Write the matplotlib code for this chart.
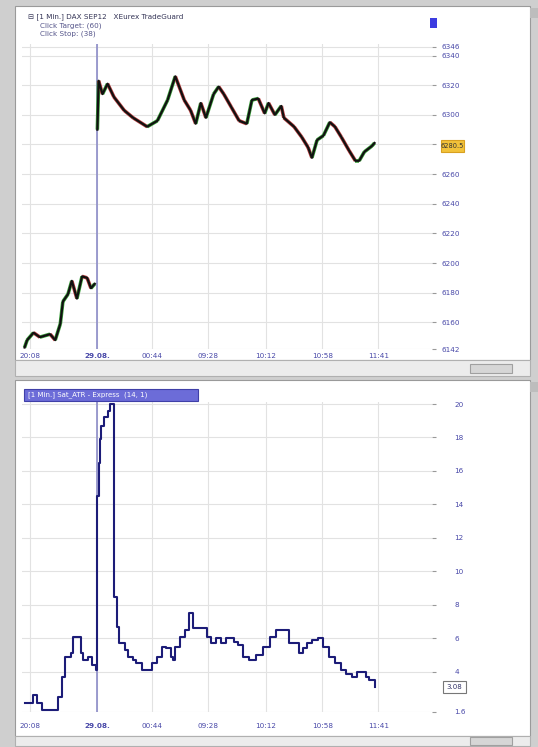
import numpy as np
import matplotlib.pyplot as plt
from matplotlib.patches import Rectangle
from matplotlib.collections import LineCollection

# values (x = 1-minute bar index)
price_bar = [2, 4, 9, 14, 22, 26, 30, 32, 36, 39, 43, 47, 51, 54, 57,
             59, 60, 63, 67, 72, 80, 87, 98, 106, 114, 120, 127, 132, 136, 140,
             144, 150, 154, 158, 164, 170, 176, 180, 185, 190, 193, 198, 203, 205,
             213, 219, 224, 227, 231, 236, 241, 245, 250, 256, 261, 264, 268, 274, 276]
price_val = [6143, 6148, 6153, 6150, 6152, 6148, 6159, 6174, 6179, 6188, 6176, 6191, 6190, 6183, 6186,
             6290, 6323, 6314, 6321, 6312, 6303, 6298, 6292, 6296, 6310, 6326, 6310, 6303, 6294, 6308,
             6298, 6314, 6319, 6314, 6305, 6296, 6294, 6310, 6311, 6301, 6308, 6300, 6306, 6298,
             6292, 6285, 6278, 6271, 6283, 6286, 6295, 6292, 6285, 6276, 6269, 6269, 6275, 6279, 6281]

atr_bar = [2, 9, 12, 16, 26, 28, 31, 34, 38, 40, 46, 48, 52, 55, 58,
           59, 60, 61, 62, 64, 67, 69, 72, 74, 76, 81, 83, 87, 89, 94,
           102, 106, 110, 113, 117, 118, 120, 124, 128, 131, 134, 145, 148, 152,
           156, 160, 166, 169, 173, 178, 183, 189, 194, 199, 209, 217, 220, 223,
           227, 232, 236, 240, 245, 250, 254, 258, 262, 269, 272, 276]
atr_val = [2.15, 2.6, 2.15, 1.7, 1.7, 2.5, 3.7, 4.9, 5.1, 6.1, 5.1, 4.7, 4.9, 4.4, 4.1,
           14.5, 16.5, 17.9, 18.7, 19.2, 19.6, 20.0, 8.5, 6.7, 5.7, 5.3, 4.9, 4.7, 4.5, 4.1,
           4.5, 4.9, 5.5, 5.4, 4.9, 4.7, 5.5, 6.1, 6.5, 7.5, 6.6, 6.1, 5.7, 6.0,
           5.7, 6.0, 5.8, 5.6, 4.9, 4.7, 5.0, 5.5, 6.1, 6.5, 5.7, 5.1, 5.4, 5.7,
           5.9, 6.0, 5.5, 4.9, 4.5, 4.1, 3.9, 3.7, 4.0, 3.7, 3.5, 3.1]

time_bar = [6, 59, 102, 146, 191, 235, 279]
time_labels = ['20:08', '29.08.', '00:44', '09:28', '10:12', '10:58', '11:41']
session_bar = 59

price_ticks = [6142, 6160, 6180, 6200, 6220, 6240, 6260, 6280, 6300, 6320, 6340, 6346]
price_tick_labels = ['6142', '6160', '6180', '6200', '6220', '6240', '6260', '', '6300', '6320', '6340', '6346']
price_last = '6280.5'
atr_ticks = [1.6, 4, 6, 8, 10, 12, 14, 16, 18, 20]
atr_tick_labels = ['1.6', '4', '6', '8', '10', '12', '14', '16', '18', '20']
atr_last = '3.08'

W, H = 538, 747
fig = plt.figure(figsize=(W / 100, H / 100), dpi=100)
fig.patch.set_facecolor('#cfcfcf')


def px_axes(x0, y0, x1, y1, **kw):
    return fig.add_axes([x0 / W, 1 - y1 / H, (x1 - x0) / W, (y1 - y0) / H], **kw)


def fig_rect(x0, y0, x1, y1, fc, ec='none', lw=0.8, z=-1):
    fig.patches.append(Rectangle((x0 / W, 1 - y1 / H), (x1 - x0) / W, (y1 - y0) / H,
                                 transform=fig.transFigure, fc=fc, ec=ec, lw=lw, zorder=z))


def fig_text(x, y, s, **kw):
    fig.text(x / W, 1 - y / H, s, zorder=6, **kw)


# window frame
fig_rect(15, 6, 530, 360, 'white', '#9a9a9a')
fig_rect(15, 360, 530, 376, '#ececec', '#b0b0b0')
fig_rect(470, 364, 512, 373, '#d6d6d6', '#a0a0a0')
fig_rect(15, 380, 530, 736, 'white', '#9a9a9a')
fig_rect(15, 736, 530, 746, '#ececec', '#b0b0b0')
fig_rect(470, 737, 512, 745, '#d6d6d6', '#a0a0a0')
fig_rect(530, 8, 538, 18, '#bdbdbd')
fig_rect(530, 382, 538, 392, '#bdbdbd')

tick_col = '#4848a8'
grid_col = '#e2e2e2'

# ---- price panel
ax1 = px_axes(22, 44, 432, 349)
ax1.patch.set_alpha(0)
ax1.set_xlim(0, 321)
ax1.set_ylim(6142, 6347.8)
ax1.set_xticks(time_bar)
ax1.set_yticks(price_ticks)
ax1.set_yticklabels(price_tick_labels)
ax1.grid(True, color=grid_col, lw=0.8)
ax1.axvline(session_bar, color='#8c8cc8', lw=1.2)

pb = np.array(price_bar)
pv = np.array(price_val)
# split at the session break so no line joins the two days
for sl in (slice(0, 15), slice(15, None)):
    b, v = pb[sl], pv[sl]
    segs = [[(b[i], v[i]), (b[i + 1], v[i + 1])] for i in range(len(b) - 1)]
    cols = ['#3aa03a' if v[i + 1] >= v[i] else '#b84040' for i in range(len(b) - 1)]
    ax1.add_collection(LineCollection(segs, colors=cols, linewidths=2.6))
    ax1.plot(b, v, color='#111111', lw=1.6)

ax1.yaxis.tick_right()
ax1.tick_params(axis='y', length=3, pad=4, labelsize=5.2, labelcolor=tick_col, color='#999999')
ax1.tick_params(axis='x', length=0, pad=3, labelsize=5.2, labelcolor=tick_col)
ax1.set_xticklabels(time_labels)
ax1.get_xticklabels()[1].set_fontweight('bold')
for s in ax1.spines.values():
    s.set_visible(False)

fig_text(28, 17, '\u229f [1 Min.] DAX SEP12   XEurex TradeGuard', fontsize=5.2, color='#333355', va='center')
fig_text(40, 26, 'Click Target: (60)', fontsize=5.2, color='#55558a', va='center')
fig_text(40, 34, 'Click Stop: (38)', fontsize=5.2, color='#55558a', va='center')
fig_rect(430, 18, 437, 28, '#3c3ce0', z=5)
fig_rect(441, 140, 464, 152, '#f2c23a', '#d8a020', z=5)
fig_text(452.5, 146, price_last, fontsize=4.8, color='#333333', ha='center', va='center')

# ---- ATR panel
ax2 = px_axes(22, 402, 432, 712)
ax2.patch.set_alpha(0)
ax2.set_xlim(0, 321)
ax2.set_ylim(1.6, 20.12)
ax2.set_xticks(time_bar)
ax2.set_yticks(atr_ticks)
ax2.set_yticklabels(atr_tick_labels)
ax2.grid(True, color=grid_col, lw=0.8)
ax2.axvline(session_bar, color='#8c8cc8', lw=1.2)
ax2.plot(atr_bar, atr_val, drawstyle='steps-post', color='#1c1c78', lw=1.5)

ax2.yaxis.tick_right()
ax2.tick_params(axis='y', length=3, pad=13, labelsize=5.2, labelcolor=tick_col, color='#999999')
ax2.tick_params(axis='x', length=0, pad=8, labelsize=5.2, labelcolor=tick_col)
ax2.set_xticklabels(time_labels)
ax2.get_xticklabels()[1].set_fontweight('bold')
for s in ax2.spines.values():
    s.set_visible(False)

fig_rect(24, 389, 198, 401, '#6c6cd8', '#4040a8', z=5)
fig_text(28, 395, '[1 Min.] Sat_ATR - Express  (14, 1)', fontsize=5, color='white', va='center')
fig_rect(443, 681, 466, 693, 'white', '#777777', z=5)
fig_text(454.5, 687, atr_last, fontsize=5, color='#333366', ha='center', va='center')

fig.savefig('out.png', dpi=100, facecolor=fig.get_facecolor())
